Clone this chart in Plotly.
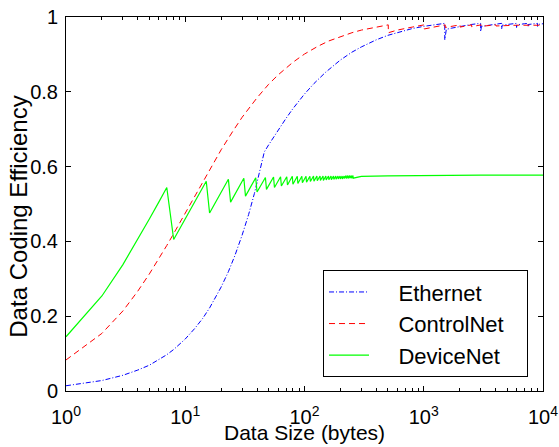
import plotly.graph_objects as go

# ---------------- data ----------------
eth_size = [1, 2, 3, 4, 5, 6, 7, 8, 9, 10, 12, 14, 16, 18, 20, 23, 26, 30, 34, 38, 42, 46,
            50, 60, 70, 80, 100, 120, 150, 200, 250, 300, 400, 500, 600, 800, 1000, 1200,
            1500, 1501, 1546, 1700, 2000, 2500, 3000, 3001, 3046, 3500, 4000, 4500, 4501, 4546,
            5000, 6000, 6001, 6046, 7000, 7500, 7501, 7546, 8000, 9000, 9001, 9046, 10000]
eth_eff = [0.014, 0.028, 0.042, 0.056, 0.069, 0.083, 0.097, 0.111, 0.125, 0.139, 0.167, 0.194,
           0.222, 0.250, 0.278, 0.319, 0.361, 0.417, 0.472, 0.528, 0.583, 0.639,
           0.658, 0.698, 0.729, 0.755, 0.794, 0.822, 0.852, 0.885, 0.906, 0.920, 0.939, 0.951,
           0.958, 0.969, 0.975, 0.979,
           0.983, 0.939, 0.967, 0.970, 0.975, 0.980, 0.983, 0.961, 0.975, 0.978, 0.981, 0.983,
           0.968, 0.978, 0.980, 0.983, 0.972, 0.979, 0.982, 0.983, 0.974, 0.980, 0.981, 0.983,
           0.975, 0.980, 0.982]

cn_size = [1, 2, 3, 4, 5, 6, 7, 8, 9, 10, 12, 15, 20, 25, 30, 40, 50, 60, 80, 100, 130, 160,
           200, 250, 300, 400, 504, 505, 600, 800, 1008, 1009, 1200, 1512, 1513, 2016, 2017,
           2520, 2521, 3024, 3025, 4032, 4033, 6000, 10000]
cn_eff = [0.083, 0.154, 0.214, 0.267, 0.313, 0.353, 0.389, 0.421, 0.450, 0.476, 0.522, 0.577,
          0.645, 0.694, 0.732, 0.784, 0.820, 0.845, 0.879, 0.901, 0.922, 0.936,
          0.948, 0.958, 0.965, 0.973, 0.979, 0.958, 0.965, 0.973, 0.979, 0.968, 0.973, 0.979,
          0.972, 0.979, 0.973, 0.979, 0.974, 0.979, 0.975, 0.979, 0.976, 0.978, 0.978]

dn_size = [1, 2, 3, 4, 5, 6, 7,
           8, 15, 16, 23, 24, 31, 32, 39, 40, 47, 48, 55, 56, 63, 64, 71, 72, 79, 80,
           87, 88, 95, 96, 103, 104, 111, 112, 119, 120, 127, 128, 135, 136, 143, 144,
           151, 152, 159, 160, 167, 168, 175, 176, 183, 184, 191, 192, 199, 200,
           207, 208, 215, 216, 223, 224, 231, 232, 239, 240, 247, 248, 255, 256,
           300, 500, 1000, 3000, 10000]
dn_eff = [0.145, 0.254, 0.338, 0.405, 0.460, 0.505, 0.544,
          0.405, 0.561, 0.476, 0.566, 0.505, 0.569, 0.521, 0.570, 0.532, 0.571, 0.539,
          0.572, 0.544, 0.573, 0.548, 0.573, 0.551, 0.574, 0.553,
          0.574, 0.555, 0.574, 0.557, 0.574, 0.558, 0.574, 0.560, 0.575, 0.561, 0.575, 0.562,
          0.575, 0.563, 0.575, 0.563,
          0.575, 0.564, 0.575, 0.565, 0.575, 0.565, 0.575, 0.566, 0.575, 0.566, 0.575, 0.567,
          0.575, 0.567,
          0.575, 0.567, 0.575, 0.568, 0.576, 0.568, 0.576, 0.568, 0.576, 0.569, 0.576, 0.569,
          0.576, 0.569,
          0.574, 0.575, 0.576, 0.577, 0.577]

series_names = ["Ethernet", "ControlNet", "DeviceNet"]
x_ticks = [1, 10, 100, 1000, 10000]
x_ticktext = ["10<sup>0</sup>", "10<sup>1</sup>", "10<sup>2</sup>", "10<sup>3</sup>", "10<sup>4</sup>"]
y_ticks = [0, 0.2, 0.4, 0.6, 0.8, 1.0]
y_ticktext = ["0", "0.2", "0.4", "0.6", "0.8", "1"]

assert len(eth_size) == len(eth_eff)
assert len(cn_size) == len(cn_eff)
assert len(dn_size) == len(dn_eff)

FONT = "Liberation Sans, Arial, Helvetica, sans-serif"
NB = "\u00a0"  # non-breaking space used only to pad the legend entries


def legend_label(name):
    return NB * 4 + name + NB * 3


fig = go.Figure()
fig.add_trace(go.Scatter(x=eth_size, y=eth_eff, mode="lines", name=legend_label(series_names[0]),
                         line=dict(color="#0000FF", width=1, dash="5px,2px,1px,2px")))
fig.add_trace(go.Scatter(x=cn_size, y=cn_eff, mode="lines", name=legend_label(series_names[1]),
                         line=dict(color="#FF0000", width=1, dash="6px,4px")))
fig.add_trace(go.Scatter(x=dn_size, y=dn_eff, mode="lines", name=legend_label(series_names[2]),
                         line=dict(color="#00FF00", width=1.2)))

minor_vals = [m * 10 ** d for d in range(4) for m in range(2, 10)]

fig.update_layout(
    width=559, height=447,
    margin=dict(l=66, r=16, t=17, b=56),
    paper_bgcolor="white", plot_bgcolor="white",
    font=dict(family=FONT, size=20, color="black"),
    showlegend=True,
    legend=dict(x=0.9686, xanchor="right", y=0.037, yanchor="bottom",
                bgcolor="white", bordercolor="black", borderwidth=1,
                font=dict(family=FONT, size=22, color="black"),
                itemwidth=40, tracegroupgap=0),
    xaxis=dict(type="log", range=[0, 4], showline=True, linecolor="black", linewidth=1,
               mirror="ticks", ticks="inside", ticklen=5, tickcolor="black",
               tickvals=x_ticks, ticktext=x_ticktext, showgrid=False, zeroline=False,
               tickfont=dict(size=20), ticklabelstandoff=8, automargin=False,
               minor=dict(ticks="inside", ticklen=3, tickcolor="black", tickvals=minor_vals,
                          showgrid=False)),
    yaxis=dict(range=[0, 1], showline=True, linecolor="black", linewidth=1,
               mirror="ticks", ticks="inside", ticklen=5, tickcolor="black",
               tickvals=y_ticks, ticktext=y_ticktext, showgrid=False, zeroline=False,
               tickfont=dict(size=20), ticklabelstandoff=3, automargin=False),
    annotations=[
        dict(text="Data Size (bytes)", xref="paper", yref="paper", x=0.5, y=0,
             xanchor="center", yanchor="middle", yshift=-41, showarrow=False,
             font=dict(family=FONT, size=21, color="black")),
        dict(text="Data Coding Efficiency", xref="paper", yref="paper", x=0, y=0.466,
             xanchor="center", yanchor="middle", xshift=-47, textangle=-90, showarrow=False,
             font=dict(family=FONT, size=24, color="black")),
    ],
)

fig.write_html("out.html")
